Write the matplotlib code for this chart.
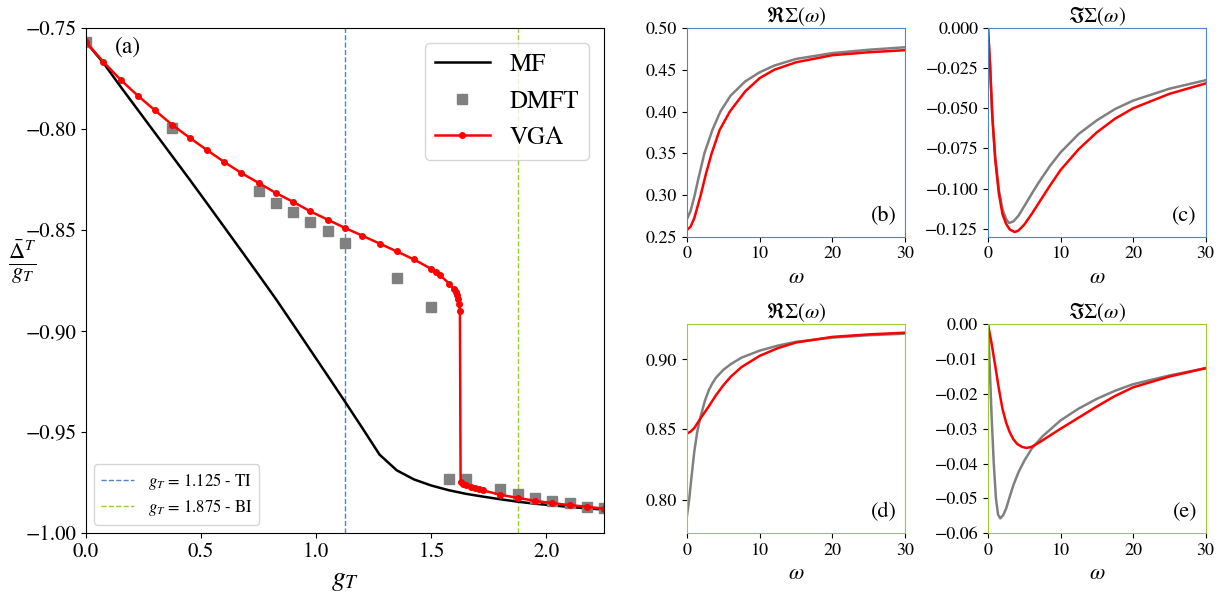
import numpy as np
import matplotlib.pyplot as plt

plt.rcParams['font.family'] = 'STIXGeneral'
plt.rcParams['mathtext.fontset'] = 'stix'

# ---- panel (a): Delta^T / g_T vs g_T
mf_g = [0.0, 0.075, 0.15, 0.225, 0.3, 0.375, 0.45, 0.525, 0.6, 0.675, 0.75, 0.825,
        0.9, 0.975, 1.05, 1.125, 1.2, 1.275, 1.35, 1.425, 1.5, 1.575, 1.65, 1.725,
        1.8, 1.875, 1.95, 2.025, 2.1, 2.175, 2.25]
mf_y = [-0.757, -0.7672, -0.7790, -0.7905, -0.8020, -0.8135, -0.8250, -0.8367, -0.8485,
        -0.8603, -0.8722, -0.8842, -0.8968, -0.9095, -0.9222, -0.9350, -0.9480, -0.9612,
        -0.9690, -0.9735, -0.9765, -0.9788, -0.9806, -0.9820, -0.9833, -0.9845, -0.9855,
        -0.9863, -0.9871, -0.9878, -0.9884]

dmft_g = [0.0, 0.375, 0.75, 0.825, 0.9, 0.975, 1.05, 1.125, 1.35, 1.5, 1.575, 1.65,
          1.8, 1.875, 1.95, 2.025, 2.1, 2.175, 2.25]
dmft_y = [-0.7571, -0.7997, -0.8306, -0.8364, -0.8410, -0.8460, -0.8504, -0.8562, -0.8736,
          -0.8881, -0.9735, -0.9735, -0.9780, -0.9809, -0.9826, -0.9840, -0.9851, -0.9869,
          -0.9875]

vga_g = [0.0, 0.075, 0.15, 0.225, 0.3, 0.375, 0.45, 0.525, 0.6, 0.675, 0.75, 0.825, 0.9,
         0.975, 1.05, 1.125, 1.2, 1.275, 1.35, 1.425, 1.5,
         1.519, 1.539, 1.577, 1.597, 1.606, 1.611, 1.616, 1.620, 1.624,
         1.627, 1.637, 1.652, 1.670, 1.688, 1.707, 1.724,
         1.8, 1.875, 1.95, 2.025, 2.1, 2.175, 2.25]
vga_y = [-0.757, -0.7667, -0.7756, -0.7835, -0.7908, -0.798, -0.8043, -0.8104, -0.8163,
         -0.8218, -0.8267, -0.8317, -0.8361, -0.8408, -0.8449, -0.849, -0.8528, -0.8567,
         -0.8606, -0.8646, -0.8693,
         -0.8709, -0.8725, -0.8765, -0.8793, -0.8807, -0.8823, -0.8843, -0.8868, -0.8902,
         -0.9748, -0.9756, -0.9761, -0.9770, -0.9778, -0.9784, -0.9789,
         -0.9811, -0.9826, -0.9841, -0.9852, -0.9862, -0.9870, -0.9880]

g_ti = 1.125
g_bi = 1.875

# ---- panels (b)-(e): self energies (gray = DMFT, red = VGA)
w_b_gray = [0, 0.5, 1.07, 1.5, 2.4, 3.5, 4.6, 6, 8, 10, 12, 15, 20, 25, 30]
re_b_gray = [0.271, 0.281, 0.300, 0.317, 0.350, 0.378, 0.400, 0.419, 0.436, 0.447, 0.455,
             0.463, 0.470, 0.474, 0.477]
w_b_red = [0, 0.5, 1, 1.9, 2.6, 3.4, 4.5, 5.9, 8, 10, 12, 15, 20, 25, 30]
re_b_red = [0.258, 0.262, 0.272, 0.300, 0.325, 0.350, 0.378, 0.400, 0.424, 0.440, 0.450,
            0.459, 0.4675, 0.471, 0.4735]

w_c_gray = [0, 0.15, 0.3, 0.6, 1.0, 1.5, 2.0, 2.5, 2.9, 3.5, 4.2, 5, 6, 7, 8.5, 10, 12.5,
            15, 17.5, 20, 25, 30]
im_c_gray = [0, -0.012, -0.024, -0.055, -0.080, -0.1008, -0.113, -0.119, -0.1215, -0.1205,
             -0.117, -0.111, -0.1035, -0.0962, -0.0862, -0.0775, -0.0660, -0.0575, -0.0505,
             -0.0452, -0.0378, -0.0325]
w_c_red = [0, 0.15, 0.3, 0.6, 1.0, 1.5, 2.0, 2.5, 3.0, 3.67, 4.2, 5, 6, 7, 8.5, 10, 12.5,
           15, 17.5, 20, 25, 30]
im_c_red = [0, -0.012, -0.024, -0.055, -0.082, -0.103, -0.116, -0.122, -0.1255, -0.1271,
            -0.1262, -0.1225, -0.1160, -0.1090, -0.0985, -0.0885, -0.0755, -0.0650, -0.0565,
            -0.0500, -0.0410, -0.0345]

w_d_gray = [0, 0.3, 0.6, 1.0, 1.4, 1.86, 2.5, 3, 3.5, 4, 5, 6, 7.5, 10, 12.5, 15, 20, 25, 30]
re_d_gray = [0.7888, 0.800, 0.815, 0.834, 0.848, 0.859, 0.871, 0.878, 0.883, 0.887, 0.8925,
             0.8965, 0.9012, 0.9062, 0.9098, 0.9125, 0.9155, 0.9172, 0.9183]
w_d_red = [0, 0.5, 1, 1.5, 2, 3, 4, 5, 6, 7.5, 10, 12.5, 15, 20, 25, 30]
re_d_red = [0.8471, 0.8485, 0.8510, 0.8550, 0.8590, 0.8665, 0.8745, 0.8815, 0.8875, 0.8945,
            0.9025, 0.9080, 0.9120, 0.9160, 0.9178, 0.9190]

w_e_gray = [0, 0.2, 0.5, 0.8, 1.1, 1.4, 1.7, 2.1, 2.5, 3, 3.5, 4.2, 5, 6, 7.5, 10, 12.5, 15,
            17.5, 20, 25, 30]
im_e_gray = [0, -0.010, -0.0262, -0.040, -0.050, -0.0547, -0.0557, -0.0548, -0.0529, -0.0495,
             -0.0462, -0.0425, -0.0392, -0.0358, -0.0322, -0.0276, -0.0242, -0.0214, -0.0191,
             -0.0172, -0.0147, -0.0126]
w_e_red = [0, 0.5, 1, 1.5, 2, 2.5, 3, 3.5, 4, 4.7, 5.3, 6, 7, 8.5, 10, 12.5, 15, 17.5, 20,
           25, 30]
im_e_red = [0, -0.0055, -0.0119, -0.0185, -0.0243, -0.0282, -0.031, -0.0330, -0.0343, -0.0352,
            -0.0355, -0.0352, -0.0340, -0.0320, -0.0300, -0.0268, -0.0236, -0.0206, -0.0181,
            -0.0150, -0.0126]

ti_color = '#4a86c8'
bi_color = '#9acd32'

fig = plt.figure(figsize=(12.25, 5.96), dpi=100)

# main panel
ax = fig.add_axes([0.0702, 0.1057, 0.4229, 0.8473])
l_ti = ax.axvline(g_ti, color=ti_color, ls='--', lw=1, label=r'$g_T$ = 1.125 - TI')
l_bi = ax.axvline(g_bi, color=bi_color, ls='--', lw=1, label=r'$g_T$ = 1.875 - BI')
h_mf, = ax.plot(mf_g, mf_y, color='black', lw=1.8, label='MF')
h_dmft, = ax.plot(dmft_g, dmft_y, 's', color='gray', ms=7.5, label='DMFT')
h_vga, = ax.plot(vga_g, vga_y, '-o', color='red', lw=1.8, ms=4, label='VGA')
ax.set_xlim(0, 2.25)
ax.set_ylim(-1.0, -0.75)
ax.set_xticks([0.0, 0.5, 1.0, 1.5, 2.0])
ax.set_yticks([-1.0, -0.95, -0.9, -0.85, -0.8, -0.75])
ax.set_yticklabels(['−1.00', '−0.95', '−0.90', '−0.85', '−0.80', '−0.75'])
ax.tick_params(labelsize=15)
ax.set_xlabel(r'$g_T$', fontsize=20)
ax.set_ylabel(r'$\frac{\bar{\Delta}^T}{g_T}$', fontsize=23, rotation=0,
              ha='center', va='center')
ax.yaxis.set_label_coords(-0.124, 0.537)
ax.text(0.055, 0.962, '(a)', transform=ax.transAxes, fontsize=17, va='center')

leg1 = ax.legend(handles=[h_mf, h_dmft, h_vga], loc='upper right', fontsize=18,
                 handlelength=2.2, borderaxespad=0.6)
ax.add_artist(leg1)
ax.legend(handles=[l_ti, l_bi], loc='lower left', fontsize=12, labelspacing=0.3)

# right panels
panels = [
    ([0.5608, 0.6029, 0.178, 0.350], w_b_gray, re_b_gray, w_b_red, re_b_red,
     r'$\Re\Sigma(\omega)$', '(b)', ti_color, (0.25, 0.50),
     [0.25, 0.30, 0.35, 0.40, 0.45, 0.50], ['0.25', '0.30', '0.35', '0.40', '0.45', '0.50']),
    ([0.8065, 0.6029, 0.1777, 0.350], w_c_gray, im_c_gray, w_c_red, im_c_red,
     r'$\Im\Sigma(\omega)$', '(c)', ti_color, (-0.13, 0.0),
     [-0.125, -0.1, -0.075, -0.05, -0.025, 0.0],
     ['−0.125', '−0.100', '−0.075', '−0.050', '−0.025', '0.000']),
    ([0.5608, 0.1052, 0.178, 0.3507], w_d_gray, re_d_gray, w_d_red, re_d_red,
     r'$\Re\Sigma(\omega)$', '(d)', bi_color, (0.776, 0.925),
     [0.80, 0.85, 0.90], ['0.80', '0.85', '0.90']),
    ([0.8065, 0.1052, 0.1777, 0.3507], w_e_gray, im_e_gray, w_e_red, im_e_red,
     r'$\Im\Sigma(\omega)$', '(e)', bi_color, (-0.06, 0.0),
     [-0.06, -0.05, -0.04, -0.03, -0.02, -0.01, 0.0],
     ['−0.06', '−0.05', '−0.04', '−0.03', '−0.02', '−0.01', '0.00']),
]

for rect, wg, yg, wr, yr, title, tag, scol, ylim, yt, ytl in panels:
    a = fig.add_axes(rect)
    a.plot(wg, yg, color='gray', lw=1.8)
    a.plot(wr, yr, color='red', lw=1.8)
    a.set_xlim(0, 30)
    a.set_ylim(*ylim)
    a.set_xticks([0, 10, 20, 30])
    a.set_yticks(yt)
    a.set_yticklabels(ytl)
    a.tick_params(labelsize=13)
    for s in a.spines.values():
        s.set_color(scol)
    a.set_title(title, fontsize=15, pad=4)
    a.set_xlabel(r'$\omega$', fontsize=16)
    a.text(0.96, 0.1, tag, transform=a.transAxes, fontsize=16, ha='right', va='center')

fig.savefig('out.png', dpi=100)
